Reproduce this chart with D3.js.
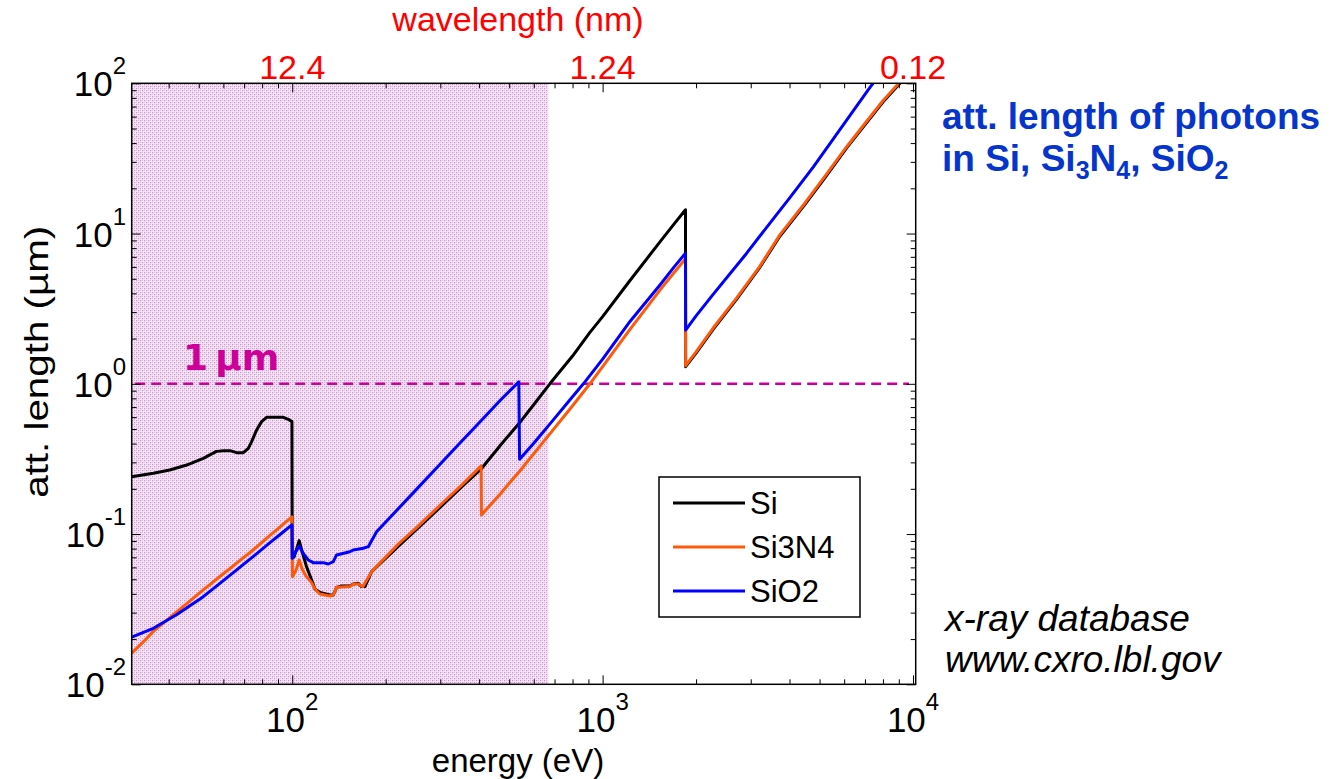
<!DOCTYPE html>
<html>
<head>
<meta charset="utf-8">
<script src="https://cdn.jsdelivr.net/npm/d3@7"></script>
<style>
  html, body { margin: 0; padding: 0; background: #fff; }
  svg { display: block; font-family: "Liberation Sans", Arial, sans-serif; }
</style>
</head>
<body>
<svg id="chart" width="1333" height="779"></svg>
<script>
// ---- data: attenuation length (µm) versus photon energy (eV) ----
const siEnergy = [30.4, 35.7, 40.3, 45.7, 51.7, 57, 60, 63, 66.2, 69.6, 72.2, 74, 76.8, 79.7, 82.7, 88, 93.6, 97.1, 99.8,
  100, 101.5, 105.3, 108, 111.2, 115.5, 118.4, 122.8, 132.3, 135.6, 139, 144.2, 153.4, 157.3, 163.2, 167.3, 171.5, 180.2,
  220, 250, 300, 350, 408, 470, 540, 610, 676, 800, 910, 1000, 1225, 1530, 1700, 1849,
  1851, 2000, 2270, 2700, 3200, 3724, 4500, 5200, 6105, 7000, 8000, 9080, 9600];
const siAtt = [0.241, 0.254, 0.267, 0.288, 0.319, 0.355, 0.358, 0.359, 0.348, 0.348, 0.372, 0.412, 0.493, 0.56, 0.598, 0.60, 0.598, 0.58, 0.56,
  0.0689, 0.0707, 0.0904, 0.0744, 0.0607, 0.0495, 0.0429, 0.0409, 0.0393, 0.0393, 0.0442, 0.0451, 0.0451, 0.0465, 0.047, 0.0447, 0.0447, 0.0562,
  0.083, 0.106, 0.151, 0.204, 0.274, 0.393, 0.55, 0.76, 1.0, 1.53, 2.2, 2.8, 4.87, 8.8, 11.6, 14.4,
  1.3, 1.6, 2.3, 3.65, 5.9, 9.6, 15.8, 23.5, 37, 53, 75, 100, 118];

const si3n4Energy = [30.4, 33, 35.7, 42, 51.7, 60, 67, 74.8, 85, 92, 99.8,
  100.2, 103, 105.3, 108, 111.2, 115.5, 118.4, 122.8, 132.3, 135.6, 139, 153.4, 157.3, 163.2, 169, 180.2,
  220, 250, 300, 350, 406, 407, 470, 540, 650, 785, 910, 1000, 1225, 1530, 1700, 1849,
  1851, 2000, 2270, 2700, 3200, 3724, 4500, 5200, 6105, 7000, 8000, 9080, 9600];
const si3n4Att = [0.0161, 0.019, 0.0225, 0.0298, 0.0425, 0.0544, 0.0653, 0.0783, 0.0982, 0.113, 0.130,
  0.052, 0.058, 0.0672, 0.0576, 0.052, 0.0475, 0.0429, 0.0399, 0.0387, 0.0393, 0.0442, 0.0447, 0.0465, 0.0465, 0.0447, 0.0562,
  0.086, 0.109, 0.156, 0.21, 0.284, 0.134, 0.187, 0.262, 0.42, 0.68, 1.0, 1.3, 2.3, 4.2, 5.5, 6.8,
  1.32, 1.63, 2.35, 3.72, 6.0, 9.8, 16.1, 24, 37.7, 54, 76.5, 102, 120];

const sio2Energy = [30.4, 35.7, 42.4, 51.7, 60, 74.8, 85, 92, 99.8,
  100.1, 102, 105.3, 108.5, 112.6, 116.9, 125.9, 130.7, 135.6, 139, 153.4, 157.3, 169.4, 175.8, 187,
  250, 300, 350, 408, 470, 537, 540, 600, 700, 785, 867, 1000, 1225, 1530, 1700, 1849,
  1851, 2000, 2270, 2911, 3500, 4000, 4775, 5500, 6300, 7266, 7700];
const sio2Att = [0.0206, 0.0236, 0.029, 0.0383, 0.049, 0.0707, 0.0879, 0.1005, 0.115,
  0.0689, 0.0744, 0.0833, 0.0744, 0.0672, 0.0645, 0.0645, 0.0632, 0.0655, 0.0726, 0.0763, 0.0783, 0.0804, 0.0824, 0.1037,
  0.196, 0.293, 0.411, 0.575, 0.783, 1.03, 0.315, 0.402, 0.589, 0.783, 1.0, 1.46, 2.6, 4.55, 6.0, 7.4,
  2.28, 2.83, 3.94, 7.4, 12.1, 17.2, 27.8, 41.9, 62, 94, 110];

const seriesNames = ["Si", "Si3N4", "SiO2"];
const seriesColors = ["#000000", "#ff5a0a", "#0000ff"];

const xMajorTicks = [100, 1000, 10000];
const xMinorTicks = [40, 50, 60, 70, 80, 90, 200, 300, 400, 500, 600, 700, 800, 900,
  2000, 3000, 4000, 5000, 6000, 7000, 8000, 9000];
const yMajorTicks = [0.01, 0.1, 1, 10, 100];
const yMajorExponents = ["-2", "-1", "0", "1", "2"];
const xMajorExponents = ["2", "3", "4"];
const wavelengthLabels = ["12.4", "1.24", "0.12"];   // nm at 100, 1000, 10000 eV

const shadedMaxEnergy = 668;   // upper energy of the shaded band (eV)
const referenceLength = 1;     // µm, dashed reference line

// ---- layout ----
const svg = d3.select("#chart");
const plot = { left: 131.7, right: 915.7, top: 83.3, bottom: 684.3 };
const x = d3.scaleLog().domain([30.4, 10200]).range([plot.left, plot.right]);
const y = d3.scaleLog().domain([0.01, 100]).range([plot.bottom, plot.top]);

const yMinorTicks = [];
yMajorTicks.slice(0, -1).forEach(d => { for (let k = 2; k <= 9; k++) yMinorTicks.push(+(d * k).toPrecision(3)); });

const defs = svg.append("defs");
defs.append("clipPath").attr("id", "plotClip").append("rect")
  .attr("x", plot.left).attr("y", plot.top)
  .attr("width", plot.right - plot.left).attr("height", plot.bottom - plot.top);

// fine dotted fill for the shaded band
const pat = defs.append("pattern").attr("id", "dots").attr("patternUnits", "userSpaceOnUse")
  .attr("width", 4).attr("height", 4);
pat.append("rect").attr("width", 4).attr("height", 4).attr("fill", "#f5e6f5");
[[0, 0, "#d192d1"], [2, 2, "#d192d1"], [0, 2, "#e4bde4"], [2, 0, "#e4bde4"],
 [1, 0, "#ecd2ec"], [0, 1, "#ecd2ec"], [3, 2, "#ecd2ec"], [2, 3, "#ecd2ec"]].forEach(p => {
  pat.append("rect").attr("x", p[0]).attr("y", p[1]).attr("width", 1).attr("height", 1).attr("fill", p[2]);
});

svg.append("rect")
  .attr("x", plot.left).attr("y", plot.top)
  .attr("width", x(shadedMaxEnergy) - plot.left).attr("height", plot.bottom - plot.top)
  .attr("fill", "url(#dots)");

// dashed 1 µm line
svg.append("line")
  .attr("x1", x(31.2)).attr("x2", x(9700))
  .attr("y1", y(referenceLength)).attr("y2", y(referenceLength))
  .attr("stroke", "#cc0099").attr("stroke-width", 2.5).attr("stroke-dasharray", "10,6");

svg.append("text")
  .attr("x", 183).attr("y", 370)
  .attr("fill", "#cc0099").attr("font-weight", "bold").attr("font-size", 36)
  .attr("font-family", "'DejaVu Sans', sans-serif")
  .text("1\u2009\u00b5m");

// curves
const series = [
  { e: siEnergy, v: siAtt },
  { e: si3n4Energy, v: si3n4Att },
  { e: sio2Energy, v: sio2Att }
];
const line = d3.line().x(d => x(d[0])).y(d => y(d[1]));
const curves = svg.append("g").attr("clip-path", "url(#plotClip)");
series.forEach((s, i) => {
  curves.append("path")
    .datum(s.e.map((e, j) => [e, s.v[j]]))
    .attr("d", line)
    .attr("fill", "none")
    .attr("stroke", seriesColors[i])
    .attr("stroke-width", 3)
    .attr("stroke-linejoin", "round");
});

// axes (ticks inward on all four sides)
function styleAxis(g) {
  g.select(".domain").remove();
  g.selectAll("line").attr("stroke", "#000").attr("stroke-width", 1);
}
svg.append("g").attr("transform", `translate(0,${plot.bottom})`)
  .call(d3.axisBottom(x).tickValues(xMinorTicks).tickSize(-5).tickFormat("")).call(styleAxis);
svg.append("g").attr("transform", `translate(0,${plot.bottom})`)
  .call(d3.axisBottom(x).tickValues(xMajorTicks).tickSize(-9).tickFormat("")).call(styleAxis);
svg.append("g").attr("transform", `translate(0,${plot.top})`)
  .call(d3.axisTop(x).tickValues(xMinorTicks).tickSize(-5).tickFormat("")).call(styleAxis);
svg.append("g").attr("transform", `translate(0,${plot.top})`)
  .call(d3.axisTop(x).tickValues(xMajorTicks).tickSize(-9).tickFormat("")).call(styleAxis);
svg.append("g").attr("transform", `translate(${plot.left},0)`)
  .call(d3.axisLeft(y).tickValues(yMinorTicks).tickSize(-5).tickFormat("")).call(styleAxis);
svg.append("g").attr("transform", `translate(${plot.left},0)`)
  .call(d3.axisLeft(y).tickValues(yMajorTicks).tickSize(-9).tickFormat("")).call(styleAxis);
svg.append("g").attr("transform", `translate(${plot.right},0)`)
  .call(d3.axisRight(y).tickValues(yMinorTicks).tickSize(-5).tickFormat("")).call(styleAxis);
svg.append("g").attr("transform", `translate(${plot.right},0)`)
  .call(d3.axisRight(y).tickValues(yMajorTicks).tickSize(-9).tickFormat("")).call(styleAxis);

svg.append("rect")
  .attr("x", plot.left).attr("y", plot.top)
  .attr("width", plot.right - plot.left).attr("height", plot.bottom - plot.top)
  .attr("fill", "none").attr("stroke", "#000").attr("stroke-width", 1.5);

// tick labels: powers of ten
const xl = svg.append("g").attr("font-size", 35).attr("fill", "#000");
xMajorTicks.forEach((d, i) => {
  const t = xl.append("text").attr("x", x(d)).attr("y", 732).attr("text-anchor", "middle");
  t.append("tspan").text("10");
  t.append("tspan").attr("font-size", 24).attr("dy", -22).text(xMajorExponents[i]);
});
const yl = svg.append("g").attr("font-size", 35).attr("fill", "#000");
yMajorTicks.forEach((d, i) => {
  const t = yl.append("text").attr("x", 126).attr("y", y(d) + 13).attr("text-anchor", "end");
  t.append("tspan").text("10");
  t.append("tspan").attr("font-size", 24).attr("dy", -22).text(yMajorExponents[i]);
});

// wavelength labels along the top
const wl = svg.append("g").attr("font-size", 34).attr("fill", "#ff0000").attr("text-anchor", "middle");
xMajorTicks.forEach((d, i) => {
  wl.append("text").attr("x", x(d)).attr("y", 79).text(wavelengthLabels[i]);
});
svg.append("text").attr("x", 518).attr("y", 31).attr("text-anchor", "middle")
  .attr("font-size", 34).attr("fill", "#ff0000").text("wavelength (nm)");

// axis titles
svg.append("text").attr("x", 518).attr("y", 772).attr("text-anchor", "middle")
  .attr("font-size", 33).text("energy (eV)");
svg.append("text")
  .attr("transform", `translate(48,${(plot.top + plot.bottom) / 2 - 22}) rotate(-90)`)
  .attr("text-anchor", "middle").attr("font-size", 34)
  .attr("textLength", 272).attr("lengthAdjust", "spacingAndGlyphs")
  .text("att. length (\u00b5m)");

// legend
const lg = svg.append("g");
lg.append("rect").attr("x", 659).attr("y", 477).attr("width", 201).attr("height", 140)
  .attr("fill", "#fff").attr("stroke", "#000").attr("stroke-width", 1.5);
seriesNames.forEach((n, i) => {
  const yy = 503 + i * 44;
  lg.append("line").attr("x1", 673).attr("x2", 745).attr("y1", yy).attr("y2", yy)
    .attr("stroke", seriesColors[i]).attr("stroke-width", 3);
  lg.append("text").attr("x", 750).attr("y", yy + 11).attr("font-size", 31).text(n);
});

// annotations on the right
const ann = svg.append("g").attr("fill", "#0535cc").attr("font-weight", "bold").attr("font-size", 37);
ann.append("text").attr("x", 942).attr("y", 129).text("att. length of photons");
const l2 = ann.append("text").attr("x", 942).attr("y", 171);
l2.append("tspan").text("in Si, Si");
l2.append("tspan").attr("font-size", 25).attr("dy", 8).text("3");
l2.append("tspan").attr("dy", -8).text("N");
l2.append("tspan").attr("font-size", 25).attr("dy", 8).text("4");
l2.append("tspan").attr("dy", -8).text(", SiO");
l2.append("tspan").attr("font-size", 25).attr("dy", 8).text("2");

const src = svg.append("g").attr("font-style", "italic").attr("font-size", 37).attr("fill", "#000");
src.append("text").attr("x", 945).attr("y", 631).text("x-ray database");
src.append("text").attr("x", 945).attr("y", 672).text("www.cxro.lbl.gov");
</script>
</body>
</html>
